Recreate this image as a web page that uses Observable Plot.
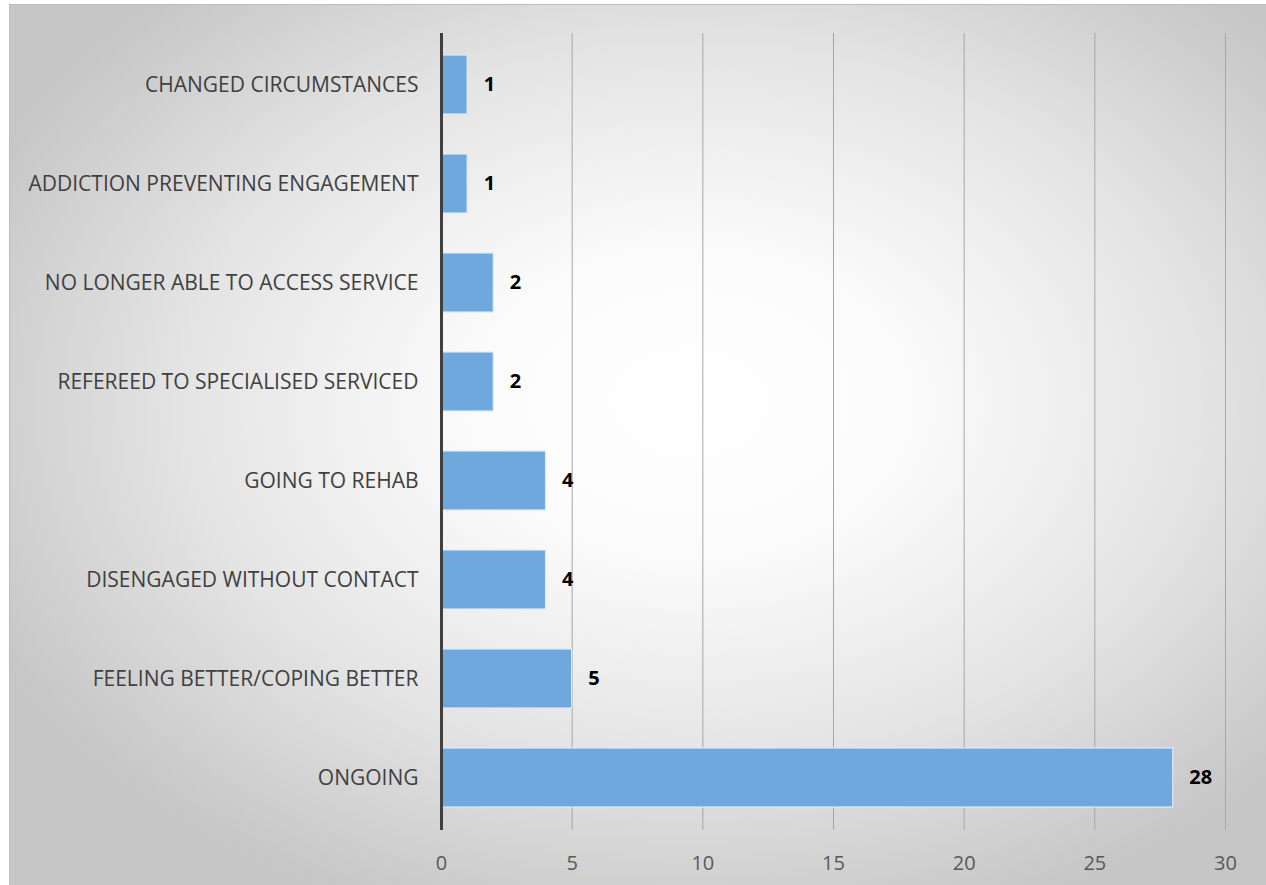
<!DOCTYPE html>
<html>
<head>
<meta charset="utf-8">
<script src="https://cdn.jsdelivr.net/npm/d3@7"></script>
<script src="https://cdn.jsdelivr.net/npm/@observablehq/plot@0.6"></script>
<style>
  html, body { margin: 0; padding: 0; background: #fff; }
  #wrap { position: relative; width: 1266px; height: 885px; overflow: hidden; }
  #bg { position: absolute; left: 9px; top: 4px; width: 1260px; height: 884px;
        border: 1px solid #bdbdbd;
        background: radial-gradient(ellipse 62% 62% at 54% 45%, #ffffff 0%, #fbfbfb 28%, #e4e4e4 65%, #c6c6c6 100%); }
  #chart { position: absolute; left: 0; top: 0; }
  svg text { font-family: "Open Sans", Lato, sans-serif; }
</style>
</head>
<body>
<div id="wrap"><div id="bg"></div><div id="chart"></div></div>
<script>
const categories = [
  "CHANGED CIRCUMSTANCES",
  "ADDICTION PREVENTING ENGAGEMENT",
  "NO LONGER ABLE TO ACCESS SERVICE",
  "REFEREED TO SPECIALISED SERVICED",
  "GOING TO REHAB",
  "DISENGAGED WITHOUT CONTACT",
  "FEELING BETTER/COPING BETTER",
  "ONGOING"
];
const values = [1, 1, 2, 2, 4, 4, 5, 28];
const xTicks = [0, 5, 10, 15, 20, 25, 30];

const data = categories.map((c, i) => ({category: c, value: values[i]}));

const chart = Plot.plot({
  width: 1266,
  height: 885,
  marginLeft: 441,
  marginRight: 41,
  marginTop: 33,
  marginBottom: 55,
  style: {background: "transparent", overflow: "visible"},
  x: {domain: [0, 30], ticks: xTicks},
  y: {domain: categories, paddingInner: 0.4, paddingOuter: 0.2},
  marks: [
    Plot.ruleX(xTicks.filter(d => d > 0), {stroke: "#a6a6a6", strokeWidth: 1}),
    Plot.barX(data, {y: "category", x: "value", fill: "#6fa8dc", stroke: "#dcebf8", strokeWidth: 1.2}),
    Plot.ruleX([0], {stroke: "#404040", strokeWidth: 3}),
    Plot.text(data, {y: "category", x: "value", text: d => String(d.value), textAnchor: "start", dx: 16,
      fontWeight: "bold", fontSize: 20, fill: "#000"}),
    Plot.axisX({ticks: xTicks, tickSize: 0, tickPadding: 25, fontSize: 20, color: "#595959", label: null}),
    Plot.axisY({tickSize: 0, tickPadding: 23, fontSize: 21, color: "#404040", label: null})
  ]
});
document.getElementById("chart").appendChild(chart);
</script>
</body>
</html>
